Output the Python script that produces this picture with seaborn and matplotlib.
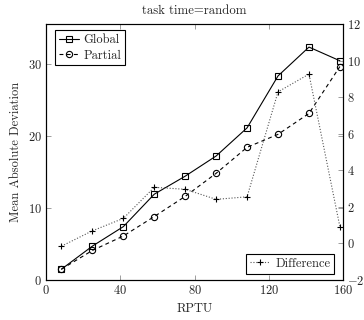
import matplotlib
matplotlib.use("Agg")
import matplotlib.pyplot as plt
import seaborn as sns
import pandas as pd

rptu = [8.33, 25.0, 41.67, 58.33, 75.0, 91.67, 108.33, 125.0, 141.67, 158.33]
global_mad = [1.5, 4.7, 7.4, 11.9, 14.4, 17.2, 21.1, 28.3, 32.3, 30.4]
partial_mad = [1.5, 4.1, 6.1, 8.8, 11.6, 14.8, 18.4, 20.2, 23.1, 29.6]
difference = [-0.15, 0.69, 1.37, 3.07, 2.96, 2.41, 2.55, 8.29, 9.26, 0.91]

xticks = [0, 40, 80, 120, 160]
left_ticks = [0, 10, 20, 30]
right_ticks = [-2, 0, 2, 4, 6, 8, 10, 12]

sns.set_style("ticks")
plt.rcParams["font.family"] = ["cmr10", "DejaVu Serif"]
plt.rcParams["mathtext.fontset"] = "cm"
plt.rcParams["axes.formatter.use_mathtext"] = True

df = pd.DataFrame({"RPTU": rptu, "Global": global_mad, "Partial": partial_mad,
                   "Difference": difference})

fig = plt.figure(figsize=(3.64, 3.2), dpi=100)
ax = fig.add_axes([46 / 364, 40 / 320, 297 / 364, 256 / 320])
ax2 = ax.twinx()

sns.lineplot(data=df, x="RPTU", y="Global", ax=ax, color="black", linewidth=0.8,
             marker="s", markersize=4.5, markerfacecolor="none",
             markeredgecolor="black", markeredgewidth=0.8, label="Global", legend=False)
sns.lineplot(data=df, x="RPTU", y="Partial", ax=ax, color="black", linewidth=0.8,
             linestyle=(0, (3.5, 3)), marker="o", markersize=4.5, markerfacecolor="none",
             markeredgecolor="black", markeredgewidth=0.8, label="Partial", legend=False)
sns.lineplot(data=df, x="RPTU", y="Difference", ax=ax2, color="#555555", linewidth=0.8,
             linestyle=(0, (1, 1.6)), marker="+", markersize=5,
             markeredgecolor="black", markeredgewidth=0.8, label="Difference", legend=False)

ax.set_xlim(0, 160)
ax.set_ylim(0, 35.5)
ax2.set_ylim(-2, 12)
ax.set_xticks(xticks)
ax.set_yticks(left_ticks)
ax2.set_yticks(right_ticks)

ax.set_xlabel("RPTU", fontsize=9, labelpad=4)
ax.set_ylabel("Mean Absolute Deviation", fontsize=9, labelpad=4)
ax2.set_ylabel("")
ax.set_title("task time=random", fontsize=9.2, pad=7)

ax.tick_params(axis="both", direction="in", length=3.5, width=0.5, color="#777777",
               labelsize=9, top=True, right=True, labelright=False, pad=3)
ax2.tick_params(axis="y", direction="in", length=3.5, width=0.5, color="#777777",
                labelsize=9, left=False, right=True, pad=3)

for a in (ax, ax2):
    for s in a.spines.values():
        s.set_visible(True)
        s.set_linewidth(0.8)
        s.set_color("black")
ax.spines["top"].set_color("#444444")

leg1 = ax.legend(loc="upper left", bbox_to_anchor=(0.03, 0.975), fontsize=9,
                 frameon=True, fancybox=False, edgecolor="black", framealpha=1,
                 handlelength=1.6, handletextpad=0.4, borderpad=0.3, labelspacing=0.25,
                 borderaxespad=0)
leg1.get_frame().set_linewidth(0.8)
leg2 = ax2.legend(loc="lower right", bbox_to_anchor=(0.97, 0.025), fontsize=9,
                  frameon=True, fancybox=False, edgecolor="black", framealpha=1,
                  handlelength=1.6, handletextpad=0.4, borderpad=0.3, borderaxespad=0)
leg2.get_frame().set_linewidth(0.8)

fig.savefig("out.png", dpi=100)
